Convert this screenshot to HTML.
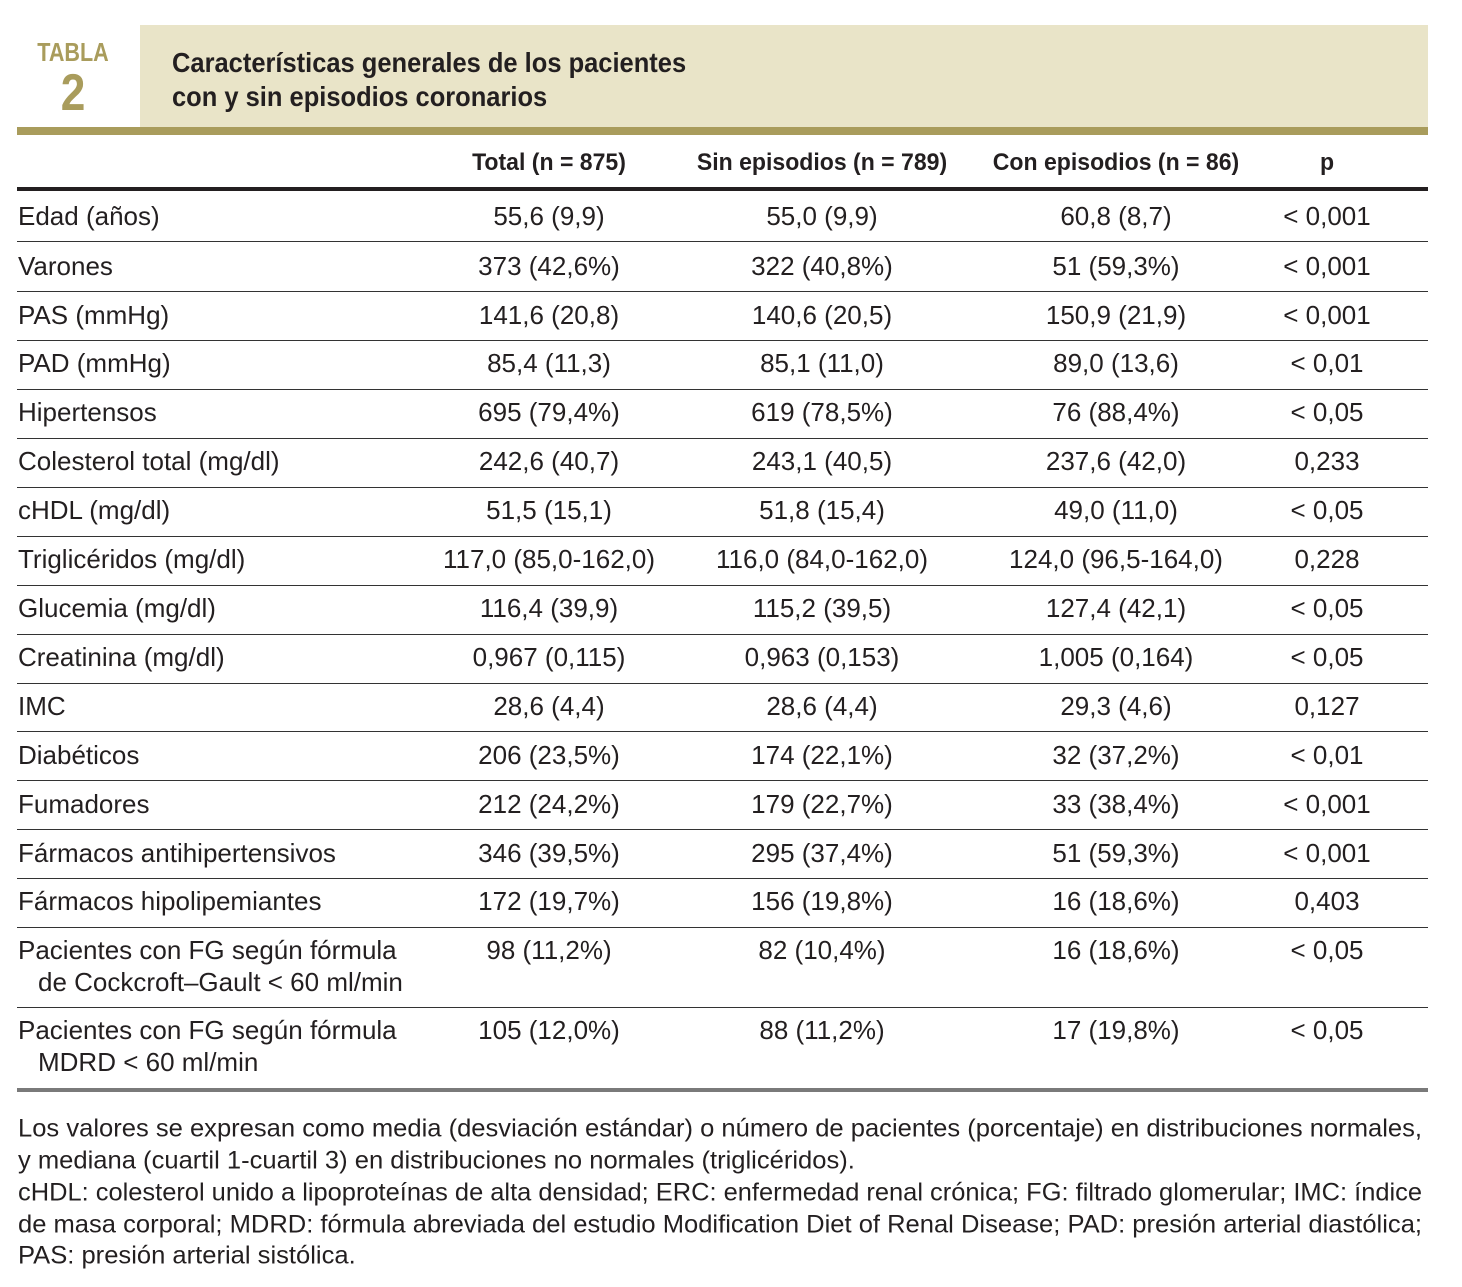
<!DOCTYPE html>
<html><head><meta charset="utf-8"><style>
body{margin:0;width:1462px;height:1287px;background:#fff;position:relative;overflow:hidden;font-family:"Liberation Sans",sans-serif;color:#231f20}
.a{position:absolute;white-space:nowrap;line-height:1}
.t{font-size:26px;transform-origin:0 50%;transform:translateY(-50%) scaleX(1.0)}
.c{font-size:26px;transform:translate(-50%,-50%) scaleX(1.0)}
.h{font-size:24px;font-weight:bold;transform:translate(-50%,-50%) scaleX(0.96)}
.ln{position:absolute;left:17px;width:1411px;height:1px;background:#333}
.f{font-size:25px;transform-origin:0 50%;transform:translateY(-50%)}
</style></head><body>
<div class="a" style="left:140px;top:25px;width:1288px;height:102px;background:#e9e4c8"></div>
<div class="a" style="left:17px;top:127px;width:1411px;height:8px;background:#a99c5c"></div>
<div class="a" style="left:73px;top:52px;font-size:26px;font-weight:bold;color:#a99c5c;transform:translate(-50%,-50%) scaleX(0.83)">TABLA</div>
<div class="a" style="left:73px;top:93px;font-size:52px;font-weight:bold;color:#a99c5c;transform:translate(-50%,-50%) scaleX(0.85)">2</div>
<div class="a" style="left:172px;top:63px;font-size:28px;font-weight:bold;transform-origin:0 50%;transform:translateY(-50%) scaleX(0.91)">Características generales de los pacientes</div>
<div class="a" style="left:172px;top:97px;font-size:28px;font-weight:bold;transform-origin:0 50%;transform:translateY(-50%) scaleX(0.91)">con y sin episodios coronarios</div>
<div class="a h" style="left:549px;top:163px">Total (n = 875)</div>
<div class="a h" style="left:822px;top:163px">Sin episodios (n = 789)</div>
<div class="a h" style="left:1116px;top:163px">Con episodios (n = 86)</div>
<div class="a h" style="left:1327px;top:163px">p</div>
<div class="a" style="left:17px;top:187px;width:1411px;height:4px;background:#231f20"></div>
<div id="rows"></div>
<div class="a" style="left:17px;top:1088px;width:1411px;height:4px;background:#7a7a7a"></div>
<div id="foot"></div>
<script>
const labels=["Edad (años)","Varones","PAS (mmHg)","PAD (mmHg)","Hipertensos","Colesterol total (mg/dl)","cHDL (mg/dl)","Triglicéridos (mg/dl)","Glucemia (mg/dl)","Creatinina (mg/dl)","IMC","Diabéticos","Fumadores","Fármacos antihipertensivos","Fármacos hipolipemiantes","Pacientes con FG según fórmula|  de Cockcroft–Gault < 60 ml/min","Pacientes con FG según fórmula|  MDRD < 60 ml/min"];
const total=["55,6 (9,9)","373 (42,6%)","141,6 (20,8)","85,4 (11,3)","695 (79,4%)","242,6 (40,7)","51,5 (15,1)","117,0 (85,0-162,0)","116,4 (39,9)","0,967 (0,115)","28,6 (4,4)","206 (23,5%)","212 (24,2%)","346 (39,5%)","172 (19,7%)","98 (11,2%)","105 (12,0%)"];
const sin=["55,0 (9,9)","322 (40,8%)","140,6 (20,5)","85,1 (11,0)","619 (78,5%)","243,1 (40,5)","51,8 (15,4)","116,0 (84,0-162,0)","115,2 (39,5)","0,963 (0,153)","28,6 (4,4)","174 (22,1%)","179 (22,7%)","295 (37,4%)","156 (19,8%)","82 (10,4%)","88 (11,2%)"];
const con=["60,8 (8,7)","51 (59,3%)","150,9 (21,9)","89,0 (13,6)","76 (88,4%)","237,6 (42,0)","49,0 (11,0)","124,0 (96,5-164,0)","127,4 (42,1)","1,005 (0,164)","29,3 (4,6)","32 (37,2%)","33 (38,4%)","51 (59,3%)","16 (18,6%)","16 (18,6%)","17 (19,8%)"];
const pv=["< 0,001","< 0,001","< 0,001","< 0,01","< 0,05","0,233","< 0,05","0,228","< 0,05","< 0,05","0,127","< 0,01","< 0,001","< 0,001","0,403","< 0,05","< 0,05"];
const rowY=[216,266,315,363,412,461,510,559,608,657,706,755,804,853,901,950,1030];
const sepY=[241,291,340,389,438,487,536,585,634,683,731,780,829,878,927,1007];
const R=document.getElementById('rows');
function add(cls,x,y,txt,name){const d=document.createElement('div');d.className='a '+cls;d.style.left=x+'px';d.style.top=y+'px';d.textContent=txt;


R.appendChild(d);}
labels.forEach((l,i)=>{const parts=l.split('|');parts.forEach((p,j)=>add('t',18+(j?20:0),rowY[i]+j*32,p.trim(),'row-label'));
add('c',549,rowY[i],total[i],'cell-total');add('c',822,rowY[i],sin[i],'cell-sin');add('c',1116,rowY[i],con[i],'cell-con');add('c',1327,rowY[i],pv[i],'cell-p');});
sepY.forEach(y=>{const d=document.createElement('div');d.className='ln';d.style.top=y+'px';


R.appendChild(d);});
const foot=[["Los valores se expresan como media (desviación estándar) o número de pacientes (porcentaje) en distribuciones normales,",1404],["y mediana (cuartil 1-cuartil 3) en distribuciones no normales (triglicéridos).",0],["cHDL: colesterol unido a lipoproteínas de alta densidad; ERC: enfermedad renal crónica; FG: filtrado glomerular; IMC: índice",1404],["de masa corporal; MDRD: fórmula abreviada del estudio Modification Diet of Renal Disease; PAD: presión arterial diastólica;",1404],["PAS: presión arterial sistólica.",0]];
const fy=[1129,1161,1193,1225,1256];
const F=document.getElementById('foot');
foot.forEach((f,i)=>{const d=document.createElement('div');d.className='a f';d.style.left='18px';d.style.top=fy[i]+'px';d.textContent=f[0];


F.appendChild(d);});
const fs=[...F.children];
const s=1404/fs[0].getBoundingClientRect().width;
fs.forEach((d,i)=>{let sc=s;if(foot[i][1])sc=foot[i][1]/d.getBoundingClientRect().width;d.style.transform='translateY(-50%) scaleX('+sc+')';});
</script>
</body></html>
